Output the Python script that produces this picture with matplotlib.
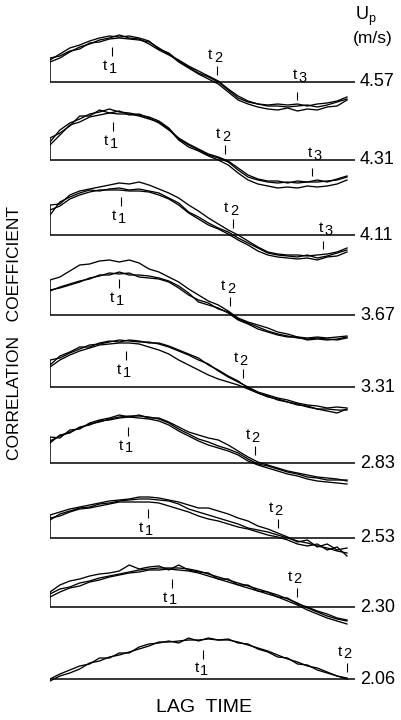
import numpy as np
import matplotlib
matplotlib.use('Agg')
import matplotlib.pyplot as plt

plt.rcParams['font.family'] = ['Liberation Sans', 'DejaVu Sans']

# lag time samples (arbitrary units)
lag = np.arange(31)

# particle velocity Up (m/s) of each panel, top to bottom
up = ['4.57', '4.31', '4.11', '3.67', '3.31', '2.83', '2.53', '2.30', '2.06']

# correlation coefficient x100 (several runs per panel)
r457 = [[22, 28, 34, 37, 41, 44, 46, 45, 46, 44, 41, 33, 29, 21, 15, 9, 5, 0, -8, -16, -20, -22, -23, -22, -23, -22, -24, -22, -21, -19, -15],
        [20, 24, 30, 35, 38, 42, 44, 47, 44, 43, 38, 32, 27, 22, 16, 11, 6, 1, -7, -14, -19, -22, -24, -24, -25, -24, -23, -25, -23, -20, -17],
        [24, 26, 31, 33, 39, 40, 43, 44, 43, 42, 40, 34, 28, 20, 14, 8, 3, -2, -10, -18, -22, -25, -27, -28, -26, -29, -27, -28, -25, -24, -18]]
r431 = [[18, 30, 37, 41, 46, 48, 51, 48, 47, 45, 43, 39, 32, 21, 15, 10, 5, 2, -2, -10, -17, -20, -22, -23, -22, -23, -22, -22, -21, -20, -17],
        [22, 27, 34, 44, 44, 50, 47, 49, 45, 46, 42, 37, 30, 22, 16, 11, 6, 3, -1, -8, -15, -19, -21, -21, -23, -21, -22, -20, -22, -19, -16],
        [15, 25, 35, 38, 43, 45, 47, 46, 46, 44, 41, 38, 31, 20, 13, 9, 4, 0, -5, -13, -20, -24, -26, -28, -27, -28, -26, -27, -26, -24, -20]]
r411 = [[20, 33, 38, 42, 45, 44, 46, 47, 45, 46, 44, 42, 37, 32, 23, 18, 12, 7, 3, -3, -8, -13, -18, -20, -21, -22, -20, -23, -21, -18, -15],
        [30, 31, 40, 44, 46, 48, 50, 52, 51, 53, 50, 46, 42, 37, 30, 24, 17, 11, 5, 0, -6, -12, -17, -19, -20, -20, -21, -20, -19, -17, -13],
        [25, 29, 36, 40, 43, 45, 45, 45, 44, 44, 43, 40, 36, 30, 22, 16, 10, 6, 1, -5, -10, -16, -20, -22, -23, -24, -23, -25, -22, -21, -17]]
r367 = [[35, 38, 44, 50, 51, 54, 55, 53, 55, 52, 46, 43, 38, 33, 26, 20, 14, 10, 4, -3, -7, -10, -13, -17, -19, -22, -23, -22, -23, -22, -21],
        [25, 27, 30, 33, 37, 39, 42, 41, 42, 38, 37, 36, 33, 27, 20, 15, 12, 6, 3, -4, -8, -12, -16, -19, -21, -23, -24, -23, -24, -25, -23],
        [24, 28, 31, 34, 36, 40, 40, 43, 40, 40, 39, 37, 34, 29, 22, 13, 10, 7, 2, -5, -9, -14, -17, -20, -22, -22, -25, -24, -25, -24, -22]]
r331 = [[27, 29, 34, 38, 42, 43, 45, 47, 46, 45, 45, 43, 40, 36, 32, 27, 23, 16, 10, 5, 0, -5, -8, -11, -13, -16, -18, -19, -21, -20, -21],
        [22, 31, 35, 40, 40, 44, 46, 45, 47, 46, 44, 44, 41, 37, 33, 29, 22, 17, 11, 6, -1, -6, -10, -12, -15, -17, -20, -22, -24, -26, -22],
        [20, 27, 32, 36, 39, 42, 43, 44, 44, 43, 40, 37, 33, 27, 22, 17, 12, 8, 5, 2, -2, -6, -9, -13, -15, -18, -19, -22, -22, -23, -23]]
r283 = [[22, 27, 31, 35, 39, 41, 44, 46, 47, 47, 46, 44, 40, 34, 29, 24, 21, 17, 14, 10, 4, -1, -3, -6, -9, -11, -14, -15, -17, -17, -17],
        [26, 25, 33, 34, 40, 43, 45, 48, 46, 48, 45, 45, 41, 36, 31, 28, 25, 23, 18, 12, 6, 1, -2, -5, -8, -10, -12, -14, -15, -16, -18],
        [20, 28, 30, 36, 38, 42, 43, 45, 46, 45, 44, 42, 38, 32, 27, 22, 18, 15, 12, 8, 2, -2, -5, -8, -11, -13, -16, -18, -19, -20, -21]]
r253 = [[18, 24, 27, 30, 31, 34, 35, 37, 38, 39, 39, 38, 37, 34, 29, 26, 23, 20, 17, 14, 10, 8, 6, 3, 0, -3, -5, -8, -10, -13, -15],
        [23, 26, 29, 31, 33, 35, 37, 38, 39, 41, 41, 40, 38, 36, 33, 30, 30, 27, 24, 20, 17, 12, 9, 5, 1, -4, -2, -9, -6, -12, -10],
        [20, 22, 26, 29, 30, 32, 34, 36, 36, 36, 36, 35, 32, 29, 26, 22, 19, 17, 14, 11, 9, 6, 3, 1, -2, -6, -8, -6, -12, -9, -18]]
r230 = [[13, 18, 20, 24, 26, 29, 31, 33, 35, 37, 38, 39, 39, 39, 38, 36, 33, 30, 27, 24, 21, 18, 15, 12, 8, 4, -1, -5, -9, -12, -14],
        [15, 22, 26, 28, 31, 33, 34, 36, 42, 38, 40, 41, 37, 42, 37, 35, 34, 28, 28, 22, 22, 16, 15, 10, 9, 3, 0, -4, -7, -11, -13],
        [10, 15, 19, 21, 25, 27, 30, 32, 34, 35, 37, 37, 38, 37, 36, 34, 31, 28, 25, 22, 19, 16, 13, 10, 6, 2, -3, -7, -11, -14, -17]]
r206 = [[-2, 3, 6, 10, 16, 18, 22, 24, 27, 30, 33, 37, 37, 38, 39, 39, 40, 39, 39, 37, 34, 31, 28, 24, 20, 17, 13, 11, 7, 3, 1],
        [0, 5, 9, 13, 15, 21, 21, 26, 26, 32, 35, 36, 38, 36, 41, 38, 41, 39, 40, 36, 35, 30, 27, 22, 21, 15, 14, 9, 6, 3, 0]]
runs = [r457, r431, r411, r367, r331, r283, r253, r230, r206]

# characteristic lag times marked on each panel (None = not marked)
t1 = [6.3, 6.4, 7.2, 7.0, 7.7, 7.9, 9.9, 12.3, 15.5]
t2 = [16.9, 17.7, 18.5, 18.2, 19.5, 20.7, 23.0, 24.9, 30.0]
t3 = [24.9, 26.5, 27.6, None, None, None, None, None, None]

# layout (pixels in a 402x720 figure)
W, H = 402, 720
left_px, right_px = 50, 355
px_per_lag = 9.9
baseline_px = [82, 160, 235, 315, 387, 463, 538, 607, 679]

fig = plt.figure(figsize=(W / 100, H / 100), dpi=100)


def tlabel(ax, x, y, k):
    ax.annotate('t', (x, y), xytext=(-3.5, 0), textcoords='offset points',
                ha='right', va='center', fontsize=11)
    ax.annotate(str(k), (x, y), xytext=(0.5, -2), textcoords='offset points',
                ha='center', va='center', fontsize=10.5)


for i, name in enumerate(up):
    b = baseline_px[i]
    ax = fig.add_axes([left_px / W, 1 - (b + 35) / H,
                       (right_px - left_px) / W, 100 / H])
    ax.set_xlim(0, (right_px - left_px) / px_per_lag)
    ax.set_ylim(-0.35, 0.65)
    ax.axis('off')

    data = np.array(runs[i]) / 100.0
    for r in data:
        ax.plot(lag, r, color='k', lw=0.95)
    ax.axhline(0, color='k', lw=1.1)
    top = data[:, 0].max()
    if top > 0:
        ax.vlines(0, 0, top, color='k', lw=1.1)

    mean = data.mean(axis=0)
    # t1: tick under the peak, label below it
    c = np.interp(t1[i], lag, mean)
    ax.vlines(t1[i], c - 0.19, c - 0.10, color='k', lw=0.8)
    tlabel(ax, t1[i], c - 0.29, 1)
    # t2: tick above the zero crossing, label above it
    c = np.interp(t2[i], lag, mean)
    ax.vlines(t2[i], c + 0.07, c + 0.16, color='k', lw=0.8)
    tlabel(ax, t2[i], c + 0.27, 2)
    # t3: tick over the trough, label just above the baseline
    if t3[i] is not None:
        c = np.interp(t3[i], lag, mean)
        ax.vlines(t3[i], c + 0.07, c + 0.15, color='k', lw=0.8)
        tlabel(ax, t3[i] + 0.5, 0.07, 3)

    ax.text(1 + 5 / (right_px - left_px), 0, name, transform=ax.get_yaxis_transform(),
            ha='left', va='center', fontsize=13)

fig.text(366 / W, 1 - 16 / H, r'U$_\mathregular{p}$', ha='center', va='center', fontsize=13)
fig.text(373 / W, 1 - 38 / H, '(m/s)', ha='center', va='center', fontsize=12.5)
fig.text(15 / W, 1 - 333 / H, 'CORRELATION   COEFFICIENT', rotation=90,
         ha='center', va='center', fontsize=12.5)
fig.text(204 / W, 1 - 707 / H, 'LAG  TIME', ha='center', va='center', fontsize=14)

fig.savefig('out.png', dpi=100)
